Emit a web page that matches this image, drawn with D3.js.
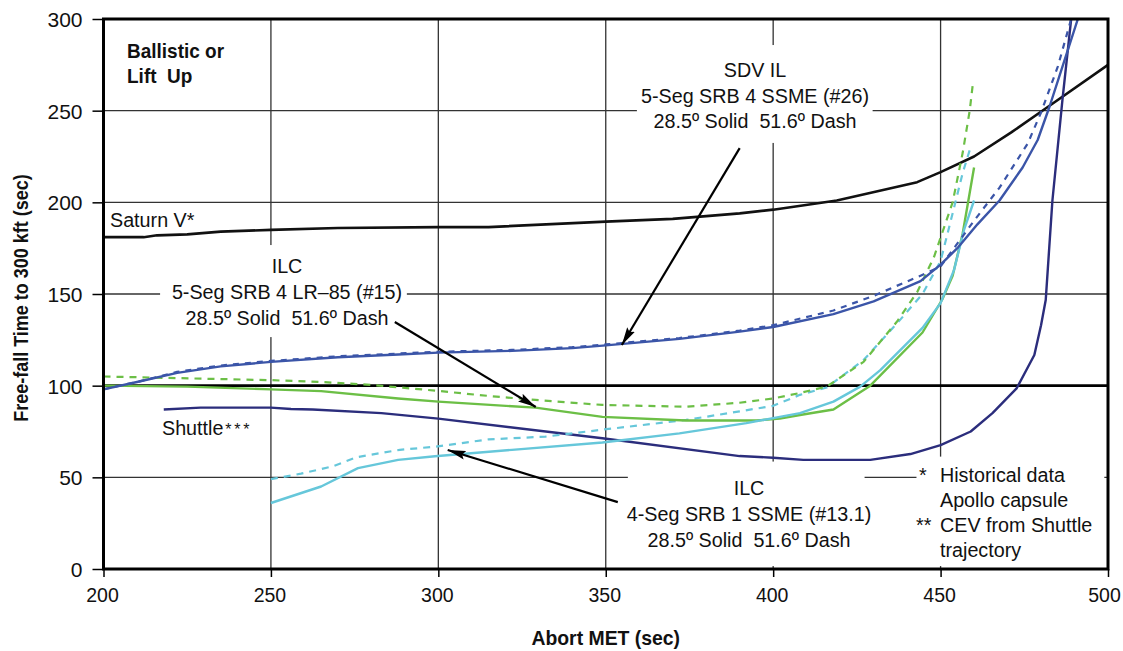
<!DOCTYPE html>
<html><head><meta charset="utf-8">
<script src="https://cdn.jsdelivr.net/npm/d3@7"></script>
<style>
html,body{margin:0;padding:0;background:#fff;}
text{font-family:"Liberation Sans Narrow","Arial Narrow","Liberation Sans",sans-serif;fill:#111;white-space:pre;}
</style></head>
<body>
<svg id="c" width="1123" height="651"></svg>
<script>
// ---------- data ----------
const xTicks = [200, 250, 300, 350, 400, 450, 500];
const yTicks = [0, 50, 100, 150, 200, 250, 300];

const saturnV = [[200,181],[212,181],[216,182],[225,182.5],[235,184],[250,185],[270,186],[300,186.5],[315,186.5],[350,189.5],[370,191],[390,194],[400,196],[419,201],[443,211],[450,216.5],[460,225],[471,238],[482,252],[500,275]];

const sdvSolid = [[200,98],[210,102],[222,107],[235,110.5],[250,113],[270,115.5],[288,117],[300,118],[322,119],[340,120.5],[350,122],[372,125.5],[390,129.5],[400,132],[418,139],[430,146],[444,157],[450,166],[455,175],[461,188],[467.6,201],[474.5,219],[479,234],[482.5,252],[486.4,274],[491,300]];
const sdvDash = [[200,98],[210,102],[222,107.5],[235,111],[250,113.5],[270,116],[288,117.5],[300,118.5],[322,119.5],[340,121],[350,122.5],[372,126],[390,130],[400,133],[418,141],[430,149],[444,160],[450,165],[460,190],[467.6,208],[476,232],[480,249],[485,274],[489,300]];

const ilc15Solid = [[200,100],[225,99.5],[250,98],[265,97],[288,93],[300,91.3],[329,88],[349,83],[374,81],[395,81],[402,82],[408,84],[418,87],[429,100],[444.6,129],[450.5,147],[453.6,160],[456.6,183],[460,219]];
const ilc15Dash = [[200,105],[250,103],[265,102],[280,100.4],[299,97.3],[315,94.4],[329,92.2],[349,89.5],[374,88.5],[390,90.7],[400,93],[408,96],[416,99.5],[427,113],[437,135],[443,151],[448,170],[453.6,200],[456.6,227],[458.7,250],[459.6,264]];

const ilc131Solid = [[250,36],[265,45],[276,55],[288,59.5],[299,61.5],[322,65],[349,69],[372,74],[392,79.6],[402,83],[408,85],[418,91.3],[426,99.5],[432,108.5],[444.6,131.5],[450,145],[454,163],[457,185],[460,201]];
const ilc131Dash = [[250,49],[259,52],[268.5,56],[275.6,61],[288.5,65],[299,66.7],[315,70.7],[332,72.2],[349,76],[374,81.3],[390,86],[400,89],[408,95],[416,99],[427,114],[437,134],[444.6,150],[450,168],[453.6,194],[456.6,216],[458.7,228.5]];

const shuttle = [[218,87],[229,88],[250,88],[256,87.3],[262.5,87],[283,85],[300,82],[349,71.3],[390,61.6],[400,60.7],[409,59.5],[429,59.5],[441,62.7],[450,67.6],[459,75],[465.5,85],[472.7,98.5],[478,116.7],[480,133],[481.4,146.7],[483.4,201],[486.4,256],[489,300]];

const series = [
  {data: saturnV,    color:"#111111", dash:null, w:2.6},
  {data: shuttle,    color:"#2b2d7c", dash:null, w:2.4},
  {data: ilc131Dash, color:"#66c7da", dash:"7,6", w:2.2},
  {data: ilc15Dash,  color:"#6cbf46", dash:"7,6", w:2.2},
  {data: ilc15Solid, color:"#6cbf46", dash:null, w:2.4},
  {data: ilc131Solid,color:"#66c7da", dash:null, w:2.4},
  {data: sdvDash,    color:"#3b55a8", dash:"6,6", w:2.2},
  {data: sdvSolid,   color:"#3b55a8", dash:null, w:2.4}
];

// ---------- layout ----------
const svg = d3.select("#c");
const L = 103.5, R = 1108, T = 19, B = 569;
const x = d3.scaleLinear().domain([200,500]).range([L,R]);
const y = d3.scaleLinear().domain([0,300]).range([B,T]);

// grid
const g = svg.append("g");
g.selectAll(".vg").data(xTicks.slice(1,-1)).enter().append("line")
  .attr("x1",d=>x(d)).attr("x2",d=>x(d)).attr("y1",T).attr("y2",B)
  .attr("stroke","#333").attr("stroke-width",1.3);
g.selectAll(".hg").data(yTicks.slice(1,-1)).enter().append("line")
  .attr("x1",L).attr("x2",R).attr("y1",d=>y(d)).attr("y2",d=>y(d))
  .attr("stroke",d=>d===100?"#000":"#333").attr("stroke-width",d=>d===100?2.6:1.3);

// white label boxes (interrupt the grid)
const boxes = [
  [216.9,290.6,126.5,176.7],
  [359.3,429.7,232.4,285.8],
  [356.6,427.3,1.6,58.6],
  [442.8,498.9,1.6,61.3]
];
g.selectAll(".bx").data(boxes).enter().append("rect")
  .attr("x",d=>x(d[0])).attr("width",d=>x(d[1])-x(d[0]))
  .attr("y",d=>y(d[3])).attr("height",d=>y(d[2])-y(d[3]))
  .attr("fill","#fff");

// clip
svg.append("clipPath").attr("id","clip").append("rect")
  .attr("x",L).attr("y",T).attr("width",R-L).attr("height",B-T);

const line = d3.line().x(d=>x(d[0])).y(d=>y(d[1]));
const lg = svg.append("g").attr("clip-path","url(#clip)");
series.forEach(s=>{
  lg.append("path").attr("d",line(s.data)).attr("fill","none")
    .attr("stroke",s.color).attr("stroke-width",s.w)
    .attr("stroke-dasharray",s.dash).attr("stroke-linejoin","round");
});

// frame
svg.append("rect").attr("x",L).attr("y",T).attr("width",R-L).attr("height",B-T)
  .attr("fill","none").attr("stroke","#000").attr("stroke-width",3);

// axes
const xa = svg.append("g").attr("transform",`translate(0,${B})`)
  .call(d3.axisBottom(x).tickValues(xTicks).tickSize(8).tickPadding(10).tickFormat(d3.format("d")));
const ya = svg.append("g").attr("transform",`translate(${L},0)`)
  .call(d3.axisLeft(y).tickValues(yTicks).tickSize(11).tickPadding(10).tickFormat(d3.format("d")));
[xa,ya].forEach(a=>{
  a.select(".domain").remove();
  a.selectAll(".tick line").attr("stroke","#000").attr("stroke-width",1.5);
  a.selectAll(".tick text").style("font-size","21px").attr("fill","#111");
});
ya.selectAll(".tick text").attr("dy","0.35em");
xa.selectAll(".tick text").attr("transform",d=>`translate(${d===500?-4:-1.5},0) scale(0.93,1)`);

// condensed text helper
function ctext(t, px, py, anchor, size, weight, sx, rot){
  const tr = `translate(${px},${py})` + (rot?` rotate(${rot})`:"") + ` scale(${sx||0.94},1)`;
  return svg.append("text").attr("transform",tr).attr("text-anchor",anchor||"middle")
    .style("font-size",(size||21)+"px").style("font-weight",weight||"normal").text(t);
}

// axis titles
ctext("Abort MET (sec)", x(350), 645, "middle", 20, "bold", 0.97);
ctext("Free-fall Time to 300 kft (sec)", 28, (T+B)/2+4, "middle", 20, "bold", 0.9, -90);

// text annotations
function block(lines, cx, y0, dy, anchor, size, weight, sx){
  lines.forEach((t,i)=>ctext(t, cx, y0+i*dy, anchor, size, weight, sx));
}
block(["Ballistic or","Lift  Up"], 127, 58, 25, "start", 20, "bold", 0.95);
block(["SDV IL","5-Seg SRB 4 SSME (#26)","28.5º Solid  51.6º Dash"], 755, 77, 25.5);
block(["ILC","5-Seg SRB 4 LR–85 (#15)","28.5º Solid  51.6º Dash"], 287, 273, 26);
block(["ILC","4-Seg SRB 1 SSME (#13.1)","28.5º Solid  51.6º Dash"], 749, 495, 26);
block(["Historical data","Apollo capsule","CEV from Shuttle","trajectory"], 940, 482, 25, "start");
block(["*"], 919, 482, 25, "start");
block(["**"], 916, 532, 25, "start");
block(["Saturn V*"], 110, 227, 25, "start");
const sh = ctext("Shuttle", 162, 435, "start");
sh.append("tspan").style("font-size","17px").attr("dx",2).style("letter-spacing","3px").text("***");

// arrows
const defs = svg.append("defs");
defs.append("marker").attr("id","ah").attr("viewBox","0 0 18 9").attr("refX",18).attr("refY",4.5)
  .attr("markerWidth",18).attr("markerHeight",9).attr("markerUnits","userSpaceOnUse").attr("orient","auto")
  .append("path").attr("d","M0,0 L18,4.5 L0,9 L3,4.5 Z").attr("fill","#000");
const arrows = [
  [390.0,229.6,354.8,122.2],
  [287.0,134.7,329.1,88.4],
  [353.6,36.5,302.8,64.9]
];
svg.selectAll(".ar").data(arrows).enter().append("line")
  .attr("x1",d=>x(d[0])).attr("y1",d=>y(d[1])).attr("x2",d=>x(d[2])).attr("y2",d=>y(d[3]))
  .attr("stroke","#000").attr("stroke-width",2.2).attr("marker-end","url(#ah)");
</script>
</body></html>
